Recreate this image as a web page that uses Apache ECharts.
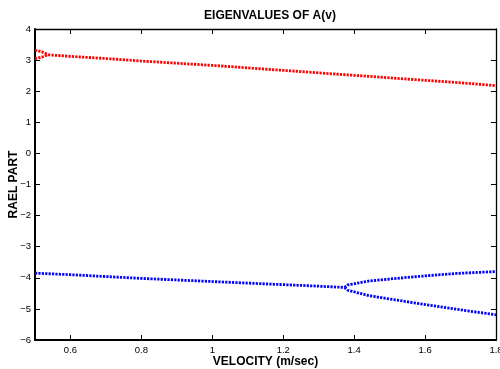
<!DOCTYPE html>
<html>
<head>
<meta charset="utf-8">
<script src="https://cdn.jsdelivr.net/npm/echarts@6/dist/echarts.min.js"></script>
<style>html,body{margin:0;padding:0;background:#fff}#c{width:500px;height:369px}</style>
</head>
<body>
<div id="c"></div>
<script>
// Tick labels
const xTicks = [0.6, 0.8, 1.0, 1.2, 1.4, 1.6, 1.8];
const yTicks = [4, 3, 2, 1, 0, -1, -2, -3, -4, -5, -6];

// Red eigenvalue real parts (upper group)
const redUpperX = [0.5, 0.509, 0.523, 0.537];
const redUpperY = [3.32, 3.30, 3.25, 3.17];
const redLowerX = [0.5, 0.509, 0.523, 0.537];
const redLowerY = [3.05, 3.07, 3.11, 3.17];
const redMainX = [0.537, 0.6, 0.7, 0.8, 0.9, 1.0, 1.1, 1.2, 1.3, 1.4, 1.5, 1.6, 1.7, 1.8];
const redMainY = [3.17, 3.12, 3.05, 2.97, 2.90, 2.83, 2.75, 2.67, 2.59, 2.51, 2.43, 2.35, 2.27, 2.18];

// Blue eigenvalue real parts (lower group)
const blueMainX = [0.5, 0.6, 0.7, 0.8, 0.9, 1.0, 1.1, 1.2, 1.3, 1.373];
const blueMainY = [-3.85, -3.90, -3.96, -4.02, -4.07, -4.12, -4.17, -4.22, -4.27, -4.31];
const blueUpX = [1.373, 1.382, 1.444, 1.5, 1.566, 1.688, 1.8];
const blueUpY = [-4.31, -4.23, -4.10, -4.04, -3.97, -3.86, -3.80];
const blueDownX = [1.373, 1.382, 1.444, 1.5, 1.566, 1.688, 1.8];
const blueDownY = [-4.31, -4.40, -4.58, -4.68, -4.80, -5.01, -5.19];

const zip = (xs, ys) => xs.map((x, i) => [x, ys[i]]);
const FONT = '"Liberation Sans", Arial, Helvetica, sans-serif';

function dotted(name, color, xs, ys) {
  return {
    name: name, type: 'line', data: zip(xs, ys), showSymbol: false, symbol: 'none',
    lineStyle: { color: color, width: 2.8, type: [2.2, 1.2], cap: 'butt' },
    xAxisIndex: 0, yAxisIndex: 0, animation: false, silent: true
  };
}

const chart = echarts.init(document.getElementById('c'), null, { renderer: 'canvas' });
const axisCommonX = {
  type: 'value', min: 0.5, max: 1.8,
  axisTick: { show: true, inside: true, length: 5, customValues: xTicks, lineStyle: { color: '#000', width: 1 } },
  splitLine: { show: false }
};
const axisCommonY = {
  type: 'value', min: -6, max: 4, interval: 1,
  axisTick: { show: true, inside: true, length: 5, lineStyle: { color: '#000', width: 1 } },
  splitLine: { show: false }
};
chart.setOption({
  backgroundColor: '#fff',
  animation: false,
  title: {
    text: 'EIGENVALUES OF A(v)', left: 265, top: 5, textAlign: 'center',
    textStyle: { fontFamily: FONT, fontSize: 12, fontWeight: 'bold', color: '#000' }
  },
  grid: { left: 35, right: 4, top: 29, bottom: 29, containLabel: false, outerBoundsMode: 'none' },
  xAxis: [
    Object.assign({}, axisCommonX, {
      position: 'bottom',
      name: 'VELOCITY (m/sec)', nameLocation: 'middle', nameGap: 15.5, nameMoveOverlap: false,
      nameTextStyle: { fontFamily: FONT, fontSize: 12, fontWeight: 'bold', color: '#000' },
      axisLine: { show: true, onZero: false, lineStyle: { color: '#000', width: 2 } },
      axisLabel: { show: true, customValues: xTicks, margin: 5, fontFamily: FONT, fontSize: 9.5, color: '#000',
        formatter: v => String(Math.round(v * 10) / 10) }
    }),
    Object.assign({}, axisCommonX, {
      position: 'top',
      axisLine: { show: true, onZero: false, lineStyle: { color: '#000', width: 1.3 } },
      axisLabel: { show: false }
    })
  ],
  yAxis: [
    Object.assign({}, axisCommonY, {
      position: 'left',
      name: 'RAEL PART', nameLocation: 'middle', nameGap: 15, nameRotate: 90, nameMoveOverlap: false,
      nameTextStyle: { fontFamily: FONT, fontSize: 12, fontWeight: 'bold', color: '#000' },
      axisLine: { show: true, onZero: false, lineStyle: { color: '#000', width: 2 } },
      axisLabel: { show: true, margin: 4, fontFamily: FONT, fontSize: 9.5, color: '#000',
        formatter: v => (yTicks.indexOf(v) >= 0 ? String(v).replace('-', '\u2212') : '') }
    }),
    Object.assign({}, axisCommonY, {
      position: 'right',
      axisLine: { show: true, onZero: false, lineStyle: { color: '#000', width: 1.3 } },
      axisLabel: { show: false }
    })
  ],
  series: [
    dotted('red1', '#ff0000', redUpperX, redUpperY),
    dotted('red2', '#ff0000', redLowerX, redLowerY),
    dotted('red3', '#ff0000', redMainX, redMainY),
    dotted('blue1', '#0000ff', blueMainX, blueMainY),
    dotted('blue2', '#0000ff', blueUpX, blueUpY),
    dotted('blue3', '#0000ff', blueDownX, blueDownY)
  ]
});
</script>
</body>
</html>
